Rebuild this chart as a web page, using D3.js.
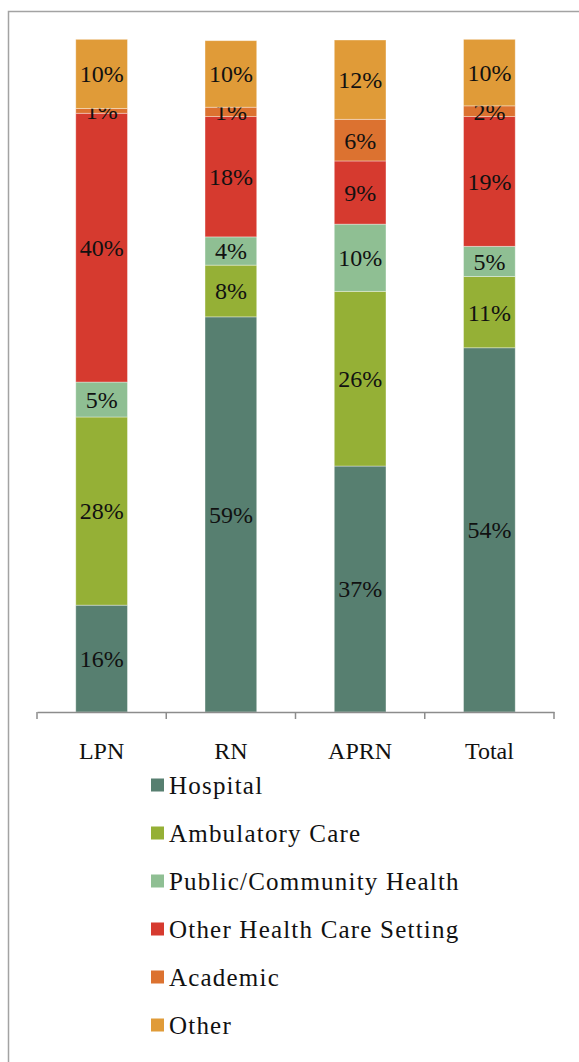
<!DOCTYPE html>
<html>
<head>
<meta charset="utf-8">
<script src="https://cdn.jsdelivr.net/npm/d3@7"></script>
<style>
  body { margin: 0; background: #fff; }
</style>
</head>
<body>
<div id="chart"></div>
<script>
// categories along the x axis
var groups = ["LPN", "RN", "APRN", "Total"]

// series, bottom to top of each stack
var series = ["Hospital", "Ambulatory Care", "Public/Community Health",
              "Other Health Care Setting", "Academic", "Other"]
var colours = ["#577f70", "#95b036", "#8fbf93", "#d63a2f", "#dc7230", "#e09b38"]

// share (%) per group
var hospital   = [15.9, 58.8, 36.6, 54.2]
var ambulatory = [28.0, 7.7, 26.0, 10.6]
var publicHlth = [5.2, 4.2, 10.0, 4.5]
var otherHC    = [40.0, 17.9, 9.4, 19.3]
var academic   = [0.7, 1.4, 6.2, 1.6]
var other      = [10.3, 9.9, 11.8, 9.9]

var valueRows = [hospital, ambulatory, publicHlth, otherHC, academic, other]

var serif = "'Liberation Serif', 'Times New Roman', serif"

var w = 579, h = 1062

var svg = d3.select("#chart")
  .append("svg")
  .attr("width", w)
  .attr("height", h)
  .style("display", "block")

// outer frame (runs off the right and bottom edge like the original)
svg.append("rect")
  .attr("x", 8.5)
  .attr("y", 11.5)
  .attr("width", w + 20)
  .attr("height", h + 20)
  .style("fill", "none")
  .style("stroke", "#a3a3a3")
  .style("stroke-width", 1.5)

var x = d3.scaleBand()
  .domain(groups)
  .range([37, 554])
  .padding(0)

var y = d3.scaleLinear()
  .domain([0, 100])
  .range([712, 40])

var barW = x.bandwidth() * 0.4

// table for d3.stack
var table = groups.map(function(g, i) {
  var row = { group: g }
  series.forEach(function(s, j) { row[s] = valueRows[j][i] })
  return row
})

var stacked = d3.stack().keys(series)(table)

var layer = svg.selectAll(".layer")
  .data(stacked)
  .enter()
  .append("g")
  .attr("class", "layer")
  .style("fill", function(d, i) { return colours[i] })

layer.selectAll("rect")
  .data(function(d) { return d })
  .enter()
  .append("rect")
  .attr("x", function(d) { return x(d.data.group) + x.bandwidth() / 2 - barW / 2 })
  .attr("y", function(d) { return y(d[1]) })
  .attr("width", barW)
  .attr("height", function(d) { return y(d[0]) - y(d[1]) })
  .style("stroke", "rgba(255,255,255,0.45)")
  .style("stroke-width", 0.8)

// value labels, centred in each segment
layer.selectAll("text")
  .data(function(d) { return d })
  .enter()
  .append("text")
  .attr("x", function(d) { return x(d.data.group) + x.bandwidth() / 2 })
  .attr("y", function(d) { return (y(d[0]) + y(d[1])) / 2 })
  .attr("dy", "0.35em")
  .attr("text-anchor", "middle")
  .style("font-family", serif)
  .style("fill", "#111")
  .style("font-size", "24px")
  .text(function(d) { return Math.round(d[1] - d[0]) + "%" })

// x axis
var axis = svg.append("g")
  .attr("transform", "translate(0,712)")
  .call(d3.axisBottom(x).tickSize(0).tickPadding(30))

axis.select(".domain").style("stroke", "#8c8c8c").style("stroke-width", 1.5)
axis.selectAll("text")
  .style("font-family", serif)
  .style("font-size", "24px")
  .style("fill", "#111")

// tick marks at band boundaries
var bounds = groups.map(function(g) { return x(g) }).concat([x.range()[1]])
axis.selectAll(".bound")
  .data(bounds)
  .enter()
  .append("line")
  .attr("class", "bound")
  .attr("x1", function(d) { return d })
  .attr("x2", function(d) { return d })
  .attr("y1", 0)
  .attr("y2", 7)
  .style("stroke", "#8c8c8c")
  .style("stroke-width", 1.5)

// legend
var legend = svg.append("g")
  .attr("transform", "translate(151,785)")

var item = legend.selectAll(".item")
  .data(series)
  .enter()
  .append("g")
  .attr("class", "item")
  .attr("transform", function(d, i) { return "translate(0," + (i * 48) + ")" })

item.append("rect")
  .attr("x", 0)
  .attr("y", -6.5)
  .attr("width", 13)
  .attr("height", 13)
  .style("fill", function(d, i) { return colours[i] })

item.append("text")
  .attr("x", 18)
  .attr("y", 8.5)
  .style("font-family", serif)
  .style("font-size", "25px")
  .style("letter-spacing", "1.2px")
  .style("fill", "#111")
  .text(function(d) { return d })
</script>
</body>
</html>
